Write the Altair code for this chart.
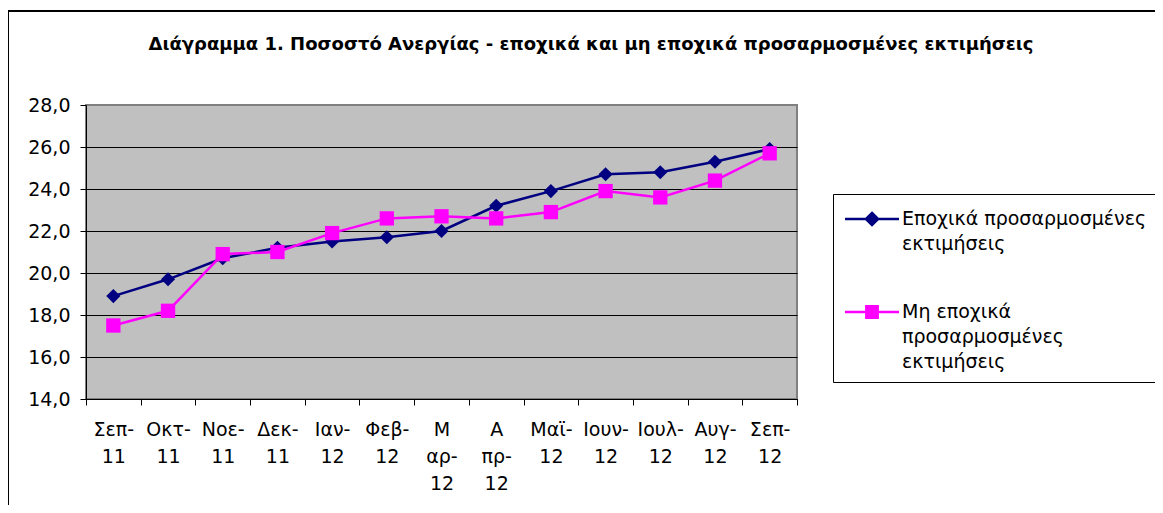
import altair as alt
import pandas as pd

months = ["Σεπ-|11", "Οκτ-|11", "Νοε-|11", "Δεκ-|11", "Ιαν-|12", "Φεβ-|12",
          "Μ|αρ-|12", "Α|πρ-|12", "Μαϊ-|12", "Ιουν-|12", "Ιουλ-|12", "Αυγ-|12", "Σεπ-|12"]
seasonal = [18.9, 19.7, 20.7, 21.2, 21.5, 21.7, 22.0, 23.2, 23.9, 24.7, 24.8, 25.3, 25.9]
non_seasonal = [17.5, 18.2, 20.9, 21.0, 21.9, 22.6, 22.7, 22.6, 22.9, 23.9, 23.6, 24.4, 25.7]
series_names = ["Εποχικά προσαρμοσμένες|εκτιμήσεις", "Μη εποχικά|προσαρμοσμένες|εκτιμήσεις"]
series_colors = ["#000080", "#FF00FF"]
y_ticks = [14, 16, 18, 20, 22, 24, 26, 28]
title_text = "Διάγραμμα 1. Ποσοστό Ανεργίας - εποχικά και μη εποχικά προσαρμοσμένες εκτιμήσεις"

rows = []
for m, v in zip(months, seasonal):
    rows.append({"month": m, "value": v, "series": series_names[0]})
for m, v in zip(months, non_seasonal):
    rows.append({"month": m, "value": v, "series": series_names[1]})
df = pd.DataFrame(rows)

FONT = "DejaVu Sans"

x_enc = alt.X("month:N", sort=months,
              scale=alt.Scale(type="band", paddingInner=0, paddingOuter=0),
              axis=alt.Axis(title=None, labelAngle=0, labelExpr="split(datum.label, '|')",
                            labelFont=FONT, labelFontSize=19, labelColor="black",
                            labelLineHeight=27, labelBaseline="top", labelPadding=15,
                            tickBand="extent", tickSize=6, tickColor="black",
                            domainColor="black", domainWidth=1, grid=False))
y_enc = alt.Y("value:Q",
              scale=alt.Scale(domain=[14, 28], nice=False, zero=False),
              axis=alt.Axis(title=None, values=y_ticks,
                            labelExpr="replace(format(datum.value, '.1f'), '.', ',')",
                            labelFont=FONT, labelFontSize=19, labelColor="black",
                            labelPadding=10, tickSize=6, tickColor="black",
                            domainColor="black", grid=True,
                            gridColor={"condition": {"test": "datum.value == 28", "value": "#808080"},
                                       "value": "black"},
                            gridWidth=1))

base = alt.Chart(df)
sa_data = base.transform_filter(alt.datum.series == series_names[0])
nsa_data = base.transform_filter(alt.datum.series == series_names[1])

lines_sa = sa_data.mark_line(strokeWidth=2.5, color=series_colors[0]).encode(x=x_enc, y=y_enc)
lines_nsa = nsa_data.mark_line(strokeWidth=2.5, color=series_colors[1]).encode(x=x_enc, y=y_enc)

points_sa = sa_data.mark_point(
    filled=True, opacity=1, shape="diamond", size=200, color=series_colors[0]
).encode(x=x_enc, y=y_enc)
points_nsa = nsa_data.mark_point(
    filled=True, opacity=1, shape="square", size=205, color=series_colors[1]
).encode(x=x_enc, y=y_enc)

# legend symbols: a line segment with the series marker (nested outlines read as solid)
sym1 = ("M-2,0H2M0,-0.45L0.45,0L0,0.45L-0.45,0Z"
        "M0,-0.27L0.27,0L0,0.27L-0.27,0ZM0,-0.1L0.1,0L0,0.1L-0.1,0Z")
sym2 = ("M-2,0H2M-0.42,-0.42H0.42V0.42H-0.42Z"
        "M-0.25,-0.25H0.25V0.25H-0.25ZM-0.08,-0.08H0.08V0.08H-0.08Z")

legend_def = alt.Legend(
    title=None, orient="none", legendX=747, legendY=89,
    labelExpr="split(replace(datum.label, '|', '      |'), '|')",
    labelFont=FONT, labelFontSize=19, labelColor="black",
    labelLimit=600,
    symbolSize=729, symbolStrokeWidth=2.5, symbolOffset=14, labelOffset=15,
    rowPadding=43, padding=10,
    strokeColor="black", fillColor="white")

legend_layer = base.transform_calculate(value="100").mark_point(
    filled=False, clip=True, strokeWidth=2.5, opacity=1
).encode(
    x=x_enc,
    y=y_enc,
    color=alt.Color("series:N", scale=alt.Scale(domain=series_names, range=series_colors), legend=legend_def),
    shape=alt.Shape("series:N", scale=alt.Scale(domain=series_names, range=[sym1, sym2]), legend=legend_def),
)

frame = alt.Chart(alt.Data(values=[{"a": 1}])).mark_rect(filled=False, color="black", strokeWidth=2, clip=False).encode(
    x=alt.value(-78), x2=alt.value(2000), y=alt.value(-94), y2=alt.value(2000)
)
frame_top = alt.Chart(alt.Data(values=[{"a": 1}])).mark_rect(color="black", clip=False).encode(
    x=alt.value(-78), x2=alt.value(2000), y=alt.value(-95), y2=alt.value(-93)
)

title = alt.Chart(alt.Data(values=[{"t": title_text}])).mark_text(
    font=FONT, fontSize=18, fontWeight="bold", color="black", align="center", baseline="alphabetic"
).encode(text="t:N", x=alt.value(505), y=alt.value(-55))

chart = alt.layer(frame, frame_top, lines_sa, lines_nsa, points_sa, points_nsa, legend_layer, title).properties(
    width=711, height=294,
    autosize=alt.AutoSizeParams(type="none"),
    padding={"left": 78, "top": 97, "right": 358, "bottom": 106},
).configure(
    view={"fill": "#C0C0C0", "stroke": "#808080", "strokeWidth": 2},
    style={"guide-label": {"lineHeight": 25}},
)

chart.save("out.html", embed_options={"renderer": "svg", "actions": False})
